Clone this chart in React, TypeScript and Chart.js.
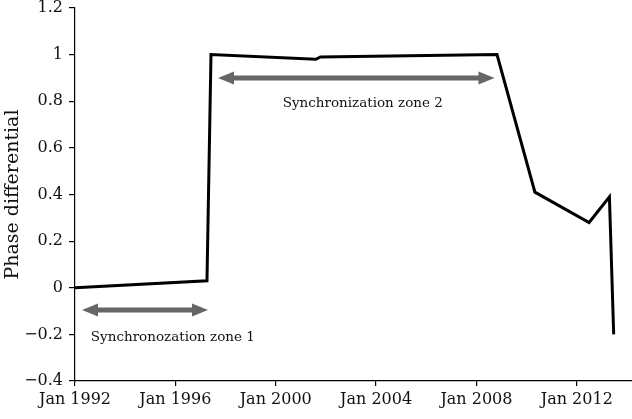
import React, { useEffect, useRef } from "react";
import { Chart, registerables } from "chart.js";

Chart.register(...registerables);

const years = [1992.0, 1997.26, 1997.42, 2001.6, 2001.78, 2008.82, 2010.33, 2012.49, 2013.3, 2013.47];
const phase = [0.0, 0.03, 1.0, 0.98, 0.99, 1.0, 0.41, 0.28, 0.39, -0.2];
const xTicks = [1992, 1996, 2000, 2004, 2008, 2012];
const yTicks = [-0.4, -0.2, 0, 0.2, 0.4, 0.6, 0.8, 1, 1.2];
const zoneNames = ["Synchronozation zone 1", "Synchronization zone 2"];
const zoneStart = [1992.28, 1997.7];
const zoneEnd = [1997.3, 2008.72];
const zoneY = [-0.095, 0.9];
const zoneLabelX = [1995.9, 2003.47];
const zoneLabelY = [-0.215, 0.79];

const FONT = "'DejaVu Serif', 'Liberation Serif', serif";

const zonePlugin = {
  id: "zones",
  afterDatasetsDraw(chart: any) {
    const ctx = chart.ctx;
    const xs = chart.scales.x;
    const ys = chart.scales.y;
    ctx.save();
    for (let i = 0; i < zoneNames.length; i++) {
      const x1 = xs.getPixelForValue(zoneStart[i]);
      const x2 = xs.getPixelForValue(zoneEnd[i]);
      const y = ys.getPixelForValue(zoneY[i]);
      const head = 16;
      const hw = 6.5;
      ctx.strokeStyle = "#666";
      ctx.fillStyle = "#666";
      ctx.lineWidth = 5;
      ctx.beginPath();
      ctx.moveTo(x1 + head - 2, y);
      ctx.lineTo(x2 - head + 2, y);
      ctx.stroke();
      ctx.beginPath();
      ctx.moveTo(x1, y);
      ctx.lineTo(x1 + head, y - hw);
      ctx.lineTo(x1 + head, y + hw);
      ctx.closePath();
      ctx.fill();
      ctx.beginPath();
      ctx.moveTo(x2, y);
      ctx.lineTo(x2 - head, y - hw);
      ctx.lineTo(x2 - head, y + hw);
      ctx.closePath();
      ctx.fill();
      ctx.fillStyle = "#111";
      ctx.font = "13.5px " + FONT;
      ctx.textAlign = "center";
      ctx.textBaseline = "middle";
      ctx.fillText(zoneNames[i], xs.getPixelForValue(zoneLabelX[i]), ys.getPixelForValue(zoneLabelY[i]));
    }
    ctx.restore();
  },
};

export default function App() {
  const ref = useRef<HTMLCanvasElement>(null);
  useEffect(() => {
    document.body.style.margin = "0";
    const chart = new Chart(ref.current as HTMLCanvasElement, {
      type: "line",
      data: {
        datasets: [
          {
            data: years.map((x, i) => ({ x, y: phase[i] })),
            borderColor: "#000",
            borderWidth: 3,
            pointRadius: 0,
            tension: 0,
            fill: false,
          },
        ],
      },
      options: {
        responsive: false,
        animation: false,
        layout: { padding: { top: 8, right: 0, left: 0, bottom: 0 } },
        plugins: { legend: { display: false }, tooltip: { enabled: false } },
        scales: {
          x: {
            type: "linear",
            min: 1992,
            max: 2014.2,
            afterBuildTicks: (s: any) => {
              s.ticks = xTicks.map((v) => ({ value: v }));
            },
            afterFit: (s: any) => {
              s.height = 38;
              s.paddingLeft = 0;
              s.paddingRight = 0;
            },
            ticks: {
              color: "#111",
              font: { family: FONT, size: 16 },
              padding: 4,
              maxRotation: 0,
              autoSkip: false,
              callback: (v: any) => "Jan " + v,
            },
            grid: { drawOnChartArea: false, drawTicks: true, tickLength: 5, color: "#000", lineWidth: 1.2 },
            border: { display: true, color: "#000", width: 1.2 },
          },
          y: {
            type: "linear",
            min: -0.4,
            max: 1.2,
            afterBuildTicks: (s: any) => {
              s.ticks = yTicks.map((v) => ({ value: v }));
            },
            afterFit: (s: any) => {
              s.width = 75;
              s.paddingTop = 0;
              s.paddingBottom = 0;
            },
            ticks: {
              color: "#111",
              font: { family: FONT, size: 16 },
              padding: 6,
              callback: (v: any) => {
                const n = Math.round(Number(v) * 10) / 10;
                return n < 0 ? "\u2212" + Math.abs(n) : String(n);
              },
            },
            title: {
              display: true,
              text: "Phase differential",
              color: "#111",
              font: { family: FONT, size: 19 },
              padding: { top: 2, bottom: 0 },
            },
            grid: { drawOnChartArea: false, drawTicks: true, tickLength: 6, color: "#000", lineWidth: 1.2 },
            border: { display: true, color: "#000", width: 1.2 },
          },
        },
      },
      plugins: [zonePlugin],
    });
    return () => chart.destroy();
  }, []);
  return (
    <div style={{ width: 632, height: 419, background: "#fff" }}>
      <canvas ref={ref} width={632} height={419} />
    </div>
  );
}
